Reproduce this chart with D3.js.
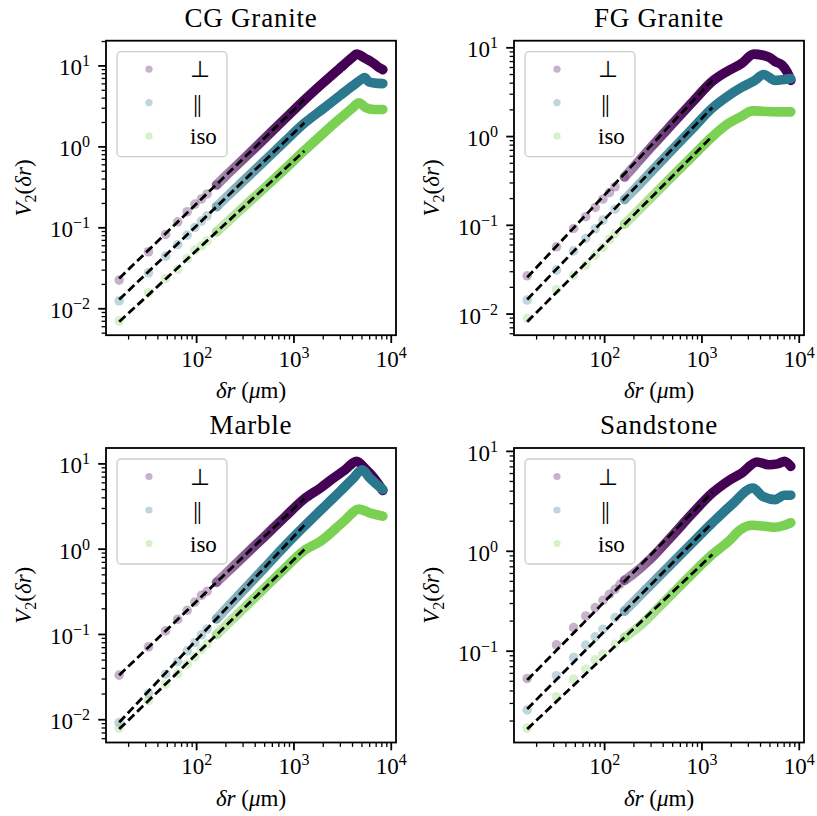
<!DOCTYPE html>
<html><head><meta charset="utf-8">
<script src="https://cdn.jsdelivr.net/npm/d3@7"></script>
<style>
body{margin:0;background:#fff}
svg{display:block}
text{font-family:"Liberation Serif","Times New Roman",serif;fill:#000}
</style>
</head><body><svg id="c" width="817" height="816"></svg>
<script>
// ---------- data ----------
const panelTitles = ["CG Granite", "FG Granite", "Marble", "Sandstone"];
const seriesLabels = ["⊥", "||", "iso"];
const seriesColors = ["#440154", "#2a788e", "#7ad151"];

// [δr (µm), V2]
const cgPerp = [[16,.0226],[32,.0506],[48,.0828],[64,.1186],[80,.158],[96,.196],[112,.228],[128,.262],[160,.338],[200,.44],[300,.70],[500,1.27],[800,2.2],[1280,3.8],[2000,6.2],[3000,9.5],[4000,12.8],[4400,14.0],[5460,12.3],[6640,10.7],[7480,9.55],[8192,9.0]];
const cgPar  = [[16,.01256],[32,.0278],[48,.0447],[64,.0622],[80,.0813],[96,.101],[112,.121],[128,.141],[160,.182],[200,.236],[300,.375],[500,.674],[800,1.156],[1280,1.96],[2000,2.97],[3000,4.34],[4000,5.66],[5000,6.9],[5300,7.2],[5900,6.35],[6640,6.17],[8192,6.05]];
const cgIso  = [[16,.00705],[32,.0158],[48,.0237],[64,.0306],[80,.0418],[96,.053],[112,.0597],[128,.0692],[160,.0887],[200,.1135],[300,.178],[500,.313],[800,.527],[1280,.9],[2000,1.47],[3000,2.26],[4000,3.03],[4660,3.5],[5460,3.06],[6640,2.9],[8192,2.9]];
const cgFits = [[16,.0237,1280,3.84],[16,.013,1280,1.98],[16,.0069,1280,.89]];

const fgPerp = [[16,.027],[32,.0573],[48,.0922],[64,.125],[80,.159],[96,.197],[112,.234],[128,.272],[160,.35],[200,.46],[300,.76],[500,1.40],[800,2.45],[1280,4.2],[1800,5.4],[2575,6.7],[3400,8.5],[4840,7.9],[5660,7.0],[6640,6.4],[7460,5.4],[8192,4.3]];
const fgPar  = [[16,.0144],[32,.0313],[48,.0516],[64,.0711],[80,.0914],[96,.1145],[128,.152],[160,.195],[200,.25],[300,.40],[500,.72],[800,1.23],[1280,2.1],[1800,2.8],[2575,3.6],[3500,4.3],[4300,5.0],[5660,4.3],[7000,4.4],[8192,4.5]];
const fgIso  = [[16,.00893],[32,.0189],[48,.0275],[64,.0356],[80,.0462],[96,.0563],[112,.0695],[128,.0805],[160,.103],[200,.131],[300,.205],[500,.36],[800,.60],[1280,1.0],[1880,1.41],[2500,1.67],[3300,1.95],[4500,1.92],[6500,1.9],[8192,1.9]];
const fgFits = [[16,.0259,1280,4.32],[16,.0146,1280,2.13],[16,.00818,1280,1.01]];

const mbPerp = [[16,.0333],[32,.0714],[48,.11],[64,.151],[80,.192],[96,.24],[112,.288],[128,.32],[160,.408],[200,.52],[300,.81],[500,1.41],[800,2.36],[1280,3.9],[1880,5.24],[2500,6.7],[3300,8.4],[4400,10.7],[5500,8.6],[6640,6.85],[8192,4.87]];
const mbPar  = [[16,.00929],[32,.0203],[48,.0342],[64,.0481],[80,.0641],[96,.0803],[112,.0989],[128,.116],[160,.152],[200,.20],[300,.327],[500,.608],[800,1.08],[1280,1.86],[2200,3.4],[3000,4.8],[4000,6.64],[5035,8.5],[6000,6.85],[8192,5.0]];
const mbIso  = [[16,.00798],[32,.0167],[48,.0261],[64,.0348],[80,.0448],[96,.0546],[112,.0668],[128,.0777],[160,.0993],[200,.127],[300,.199],[500,.351],[800,.59],[1280,.97],[1880,1.24],[3270,2.13],[4660,2.95],[6000,2.67],[8192,2.44]];
const mbFits = [[16,.0333,1280,3.93],[16,.0093,1280,1.91],[16,.00776,1280,.99]];

const ssPerp = [[16,.0533],[32,.1156],[48,.172],[64,.225],[80,.273],[96,.323],[112,.371],[128,.416],[144,.467],[160,.512],[200,.60],[300,.85],[500,1.45],[800,2.4],[1280,3.84],[1500,4.35],[1880,5.09],[2575,6.08],[3670,7.83],[4840,7.36],[6000,7.5],[7060,7.94],[8192,7.08]];
const ssPar  = [[16,.0258],[32,.0568],[48,.0865],[64,.115],[80,.139],[96,.166],[128,.217],[160,.252],[200,.313],[300,.466],[500,.769],[800,1.22],[1280,1.93],[2032,2.94],[3340,4.3],[4200,3.56],[5660,3.29],[7000,3.64],[8192,3.64]];
const ssIso  = [[16,.017],[32,.035],[48,.0525],[64,.066],[80,.0818],[96,.0933],[128,.117],[160,.137],[262,.201],[300,.23],[500,.38],[800,.60],[1280,.93],[1880,1.26],[2500,1.65],[3270,1.82],[4500,1.78],[5660,1.74],[7000,1.82],[8192,1.93]];
const ssFits = [[16,.0514,1280,3.9],[16,.0264,1280,1.93],[16,.0166,1280,.93]];

// ---------- layout ----------
const panels = [
  {title: panelTitles[0], series: [cgPerp, cgPar, cgIso], fits: cgFits, left: 106, top: 40.7},
  {title: panelTitles[1], series: [fgPerp, fgPar, fgIso], fits: fgFits, left: 514, top: 40.7},
  {title: panelTitles[2], series: [mbPerp, mbPar, mbIso], fits: mbFits, left: 106, top: 448},
  {title: panelTitles[3], series: [ssPerp, ssPar, ssIso], fits: ssFits, left: 514, top: 448}
];
const pw = 290, ph = 294.5;
const FS = 23;
const svg = d3.select("#c");
const defs = svg.append("defs");

function logPad(lo, hi) {
  const a = Math.log10(lo), b = Math.log10(hi), m = (b - a) * 0.05;
  return [Math.pow(10, a - m), Math.pow(10, b + m)];
}
function supLabel(sel, exp) {
  sel.append("tspan").text("10");
  sel.append("tspan").attr("font-size", 16).attr("dy", -9).text(exp < 0 ? "\u2212" + (-exp) : String(exp));
}
function decadeTicks(dom) {
  const lo = Math.ceil(Math.log10(dom[0]) - 1e-9), hi = Math.floor(Math.log10(dom[1]) + 1e-9);
  const maj = [], min = [];
  for (let k = lo - 1; k <= hi; k++) {
    if (k >= lo) maj.push(k);
    for (let m = 2; m <= 9; m++) {
      const v = m * Math.pow(10, k);
      if (v >= dom[0] && v <= dom[1]) min.push(v);
    }
  }
  return {maj, min};
}

panels.forEach((P, pi) => {
  const g = svg.append("g").attr("transform", `translate(${P.left},${P.top})`);
  const allX = [], allY = [];
  P.series.forEach(s => s.forEach(d => { allX.push(d[0]); allY.push(d[1]); }));
  P.fits.forEach(f => { allX.push(f[0], f[2]); allY.push(f[1], f[3]); });
  const x = d3.scaleLog().domain(logPad(d3.min(allX), d3.max(allX))).range([0, pw]);
  const y = d3.scaleLog().domain(logPad(d3.min(allY), d3.max(allY))).range([ph, 0]);

  const clipId = "clip" + pi;
  defs.append("clipPath").attr("id", clipId).append("rect").attr("width", pw).attr("height", ph);
  const plot = g.append("g").attr("clip-path", `url(#${clipId})`);

  P.series.forEach((s, si) => {
    const col = seriesColors[si];
    plot.selectAll(null).data(s.filter(d => d[0] <= 160)).enter().append("circle")
      .attr("cx", d => x(d[0])).attr("cy", d => y(d[1])).attr("r", 4.8)
      .attr("fill", col).attr("fill-opacity", 0.3);
    const gid = `grad${pi}_${si}`;
    const x0 = 160, x1 = d3.max(s, d => d[0]);
    const grad = defs.append("linearGradient").attr("id", gid)
      .attr("gradientUnits", "userSpaceOnUse")
      .attr("x1", x(x0)).attr("x2", x(x1)).attr("y1", 0).attr("y2", 0);
    [160, 200, 300, 400, 600, 800, 1000, 1500, 8192].forEach(v => {
      grad.append("stop")
        .attr("offset", (x(v) - x(x0)) / (x(x1) - x(x0)))
        .attr("stop-color", col)
        .attr("stop-opacity", 1 - Math.pow(0.7, v / 100));
    });
    const dense = s.filter(d => d[0] >= 160);
    plot.append("path").datum(dense)
      .attr("d", d3.line().curve(d3.curveMonotoneX).x(d => x(d[0])).y(d => y(d[1])))
      .attr("fill", "none").attr("stroke", `url(#${gid})`)
      .attr("stroke-width", 9.6).attr("stroke-linecap", "round").attr("stroke-linejoin", "round");
  });

  P.fits.forEach(f => {
    plot.append("line")
      .attr("x1", x(f[0])).attr("y1", y(f[1])).attr("x2", x(f[2])).attr("y2", y(f[3]))
      .attr("stroke", "#000").attr("stroke-width", 2.8).attr("stroke-dasharray", "8.5,4");
  });

  const xt = decadeTicks(x.domain()), yt = decadeTicks(y.domain());
  const tk = g.append("g").attr("stroke", "#000");
  xt.maj.forEach(k => tk.append("line").attr("x1", x(Math.pow(10, k))).attr("x2", x(Math.pow(10, k))).attr("y1", ph).attr("y2", ph + 7.8).attr("stroke-width", 1.8));
  xt.min.forEach(v => tk.append("line").attr("x1", x(v)).attr("x2", x(v)).attr("y1", ph).attr("y2", ph + 4.4).attr("stroke-width", 1.3));
  yt.maj.forEach(k => tk.append("line").attr("y1", y(Math.pow(10, k))).attr("y2", y(Math.pow(10, k))).attr("x1", 0).attr("x2", -7.8).attr("stroke-width", 1.8));
  yt.min.forEach(v => tk.append("line").attr("y1", y(v)).attr("y2", y(v)).attr("x1", 0).attr("x2", -4.4).attr("stroke-width", 1.3));

  xt.maj.forEach(k => {
    const t = g.append("text").attr("x", x(Math.pow(10, k))).attr("y", ph + 31.7)
      .attr("text-anchor", "middle").attr("font-size", FS);
    supLabel(t, k);
  });
  yt.maj.forEach(k => {
    const t = g.append("text").attr("x", -16).attr("y", y(Math.pow(10, k)) + 9.5)
      .attr("text-anchor", "end").attr("font-size", FS);
    supLabel(t, k);
  });

  g.append("rect").attr("width", pw).attr("height", ph).attr("fill", "none")
    .attr("stroke", "#000").attr("stroke-width", 1.8);

  g.append("text").attr("x", pw / 2).attr("y", -13.7).attr("text-anchor", "middle")
    .attr("font-size", 27).attr("letter-spacing", 0.8).text(P.title);

  const xl = g.append("text").attr("x", pw / 2).attr("y", ph + 63).attr("text-anchor", "middle").attr("font-size", FS);
  xl.append("tspan").attr("font-style", "italic").text("δr");
  xl.append("tspan").text(" (");
  xl.append("tspan").attr("font-style", "italic").text("μ");
  xl.append("tspan").text("m)");

  const yl = g.append("text").attr("transform", `translate(-75,${ph / 2}) rotate(-90)`)
    .attr("text-anchor", "middle").attr("font-size", FS);
  yl.append("tspan").attr("font-style", "italic").text("V");
  yl.append("tspan").attr("font-size", 16).attr("dy", 5).text("2");
  yl.append("tspan").attr("dy", -5).text("(");
  yl.append("tspan").attr("font-style", "italic").text("δr");
  yl.append("tspan").text(")");

  const lg = g.append("g").attr("transform", "translate(11,11)");
  lg.append("rect").attr("width", 110).attr("height", 105).attr("rx", 4)
    .attr("fill", "#fff").attr("fill-opacity", 0.8).attr("stroke", "#cccccc").attr("stroke-width", 1.3);
  seriesLabels.forEach((lab, i) => {
    const cy = 17.5 + i * 33.5;
    lg.append("circle").attr("cx", 32).attr("cy", cy).attr("r", 3.6)
      .attr("fill", seriesColors[i]).attr("fill-opacity", 0.3);
    const t = lg.append("text").attr("x", 73).attr("y", cy + 8).attr("font-size", FS).text(lab);
    if (i === 1) t.attr("font-size", 26).attr("y", cy + 9).attr("letter-spacing", -1.5).attr("x", 76);
  });
});
</script>
</body></html>
